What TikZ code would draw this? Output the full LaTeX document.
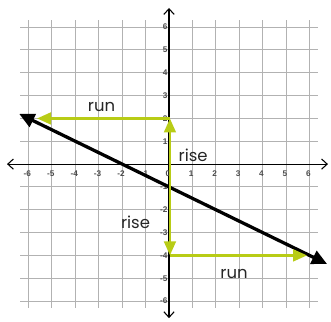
\documentclass[tikz,border=0pt]{standalone}
\usepackage{fontspec}
\setmainfont{Poppins}
\newfontfamily\tickfont{Liberation Sans}
\usetikzlibrary{arrows.meta}
\definecolor{slopegreen}{RGB}{184,204,22}
\definecolor{gridgray}{RGB}{178,178,178}
\tikzset{
  gridln/.style={gridgray, line width=1.2pt},
  axisln/.style={{Straight Barb[length=2.4mm,width=4.4mm]}-{Straight Barb[length=2.4mm,width=4.4mm]},
                 black, line width=1.3pt},
  ticklbl/.style={font=\tickfont\bfseries\fontsize{10}{10}\selectfont, text=black!70, inner sep=0pt},
  linearr/.style={{Triangle[length=6.5mm,width=6mm]}-{Triangle[length=6.5mm,width=6mm]},
                  black, line width=4pt},
  steparr/.style={-{Triangle[length=6mm,width=5mm]}, slopegreen, line width=3.2pt},
  steplbl/.style={font=\fontsize{20}{22}\selectfont, text=black!85, inner sep=0pt, anchor=base},
}

\begin{document}
\begin{tikzpicture}[x=1cm, y=0.975cm]
    \useasboundingbox (-7.22,-6.89) rectangle (6.92,7.19);
    % --- grid
    \foreach \k in {-6,...,6}{
      \draw[gridln] (\k,-6.3) -- (\k,6.3);
      \draw[gridln] (-6.35,\k) -- (6.35,\k);
    }
    % --- axes
    \draw[axisln] (-6.92,0) -- (6.79,0);
    \draw[axisln] (0,-6.75) -- (0,6.84);
    \foreach \k in {-6,...,6}{
      \node[ticklbl] (xl\k) at (\k-0.05,-0.42) {\k};
    }
    \foreach \k in {-6,...,-1,1,2,...,6}{
      \node[ticklbl, anchor=east] (yl\k) at (-0.06,\k) {\k};
    }
    % --- the line y = -x/2 - 1
    \coordinate (lineW) at (-6.4,2.2);
    \coordinate (lineE) at (6.75,-4.375);
    \draw[linearr] (lineW) -- (lineE);
    % --- rise and run
    \coordinate (yint) at (0.04,-1);
    \coordinate (upper) at (0.04,2);
    \coordinate (lower) at (0.04,-4);
    \coordinate (runW) at (-5.64,2);
    \coordinate (runE) at (5.9,-4);
    \draw[steparr] (yint) -- (upper);
    \draw[steparr] (upper) -- (runW);
    \draw[steparr] (yint) -- (lower);
    \draw[steparr] (lower) -- (runE);
    \node[steplbl] (runtop) at (-2.88,2.32) {run};
    \node[steplbl] (risetop) at (1.03,0.13) {rise};
    \node[steplbl] (riselow) at (-1.43,-2.81) {rise};
    \node[steplbl] (runlow) at (2.78,-5.0) {run};
\end{tikzpicture}
\end{document}
